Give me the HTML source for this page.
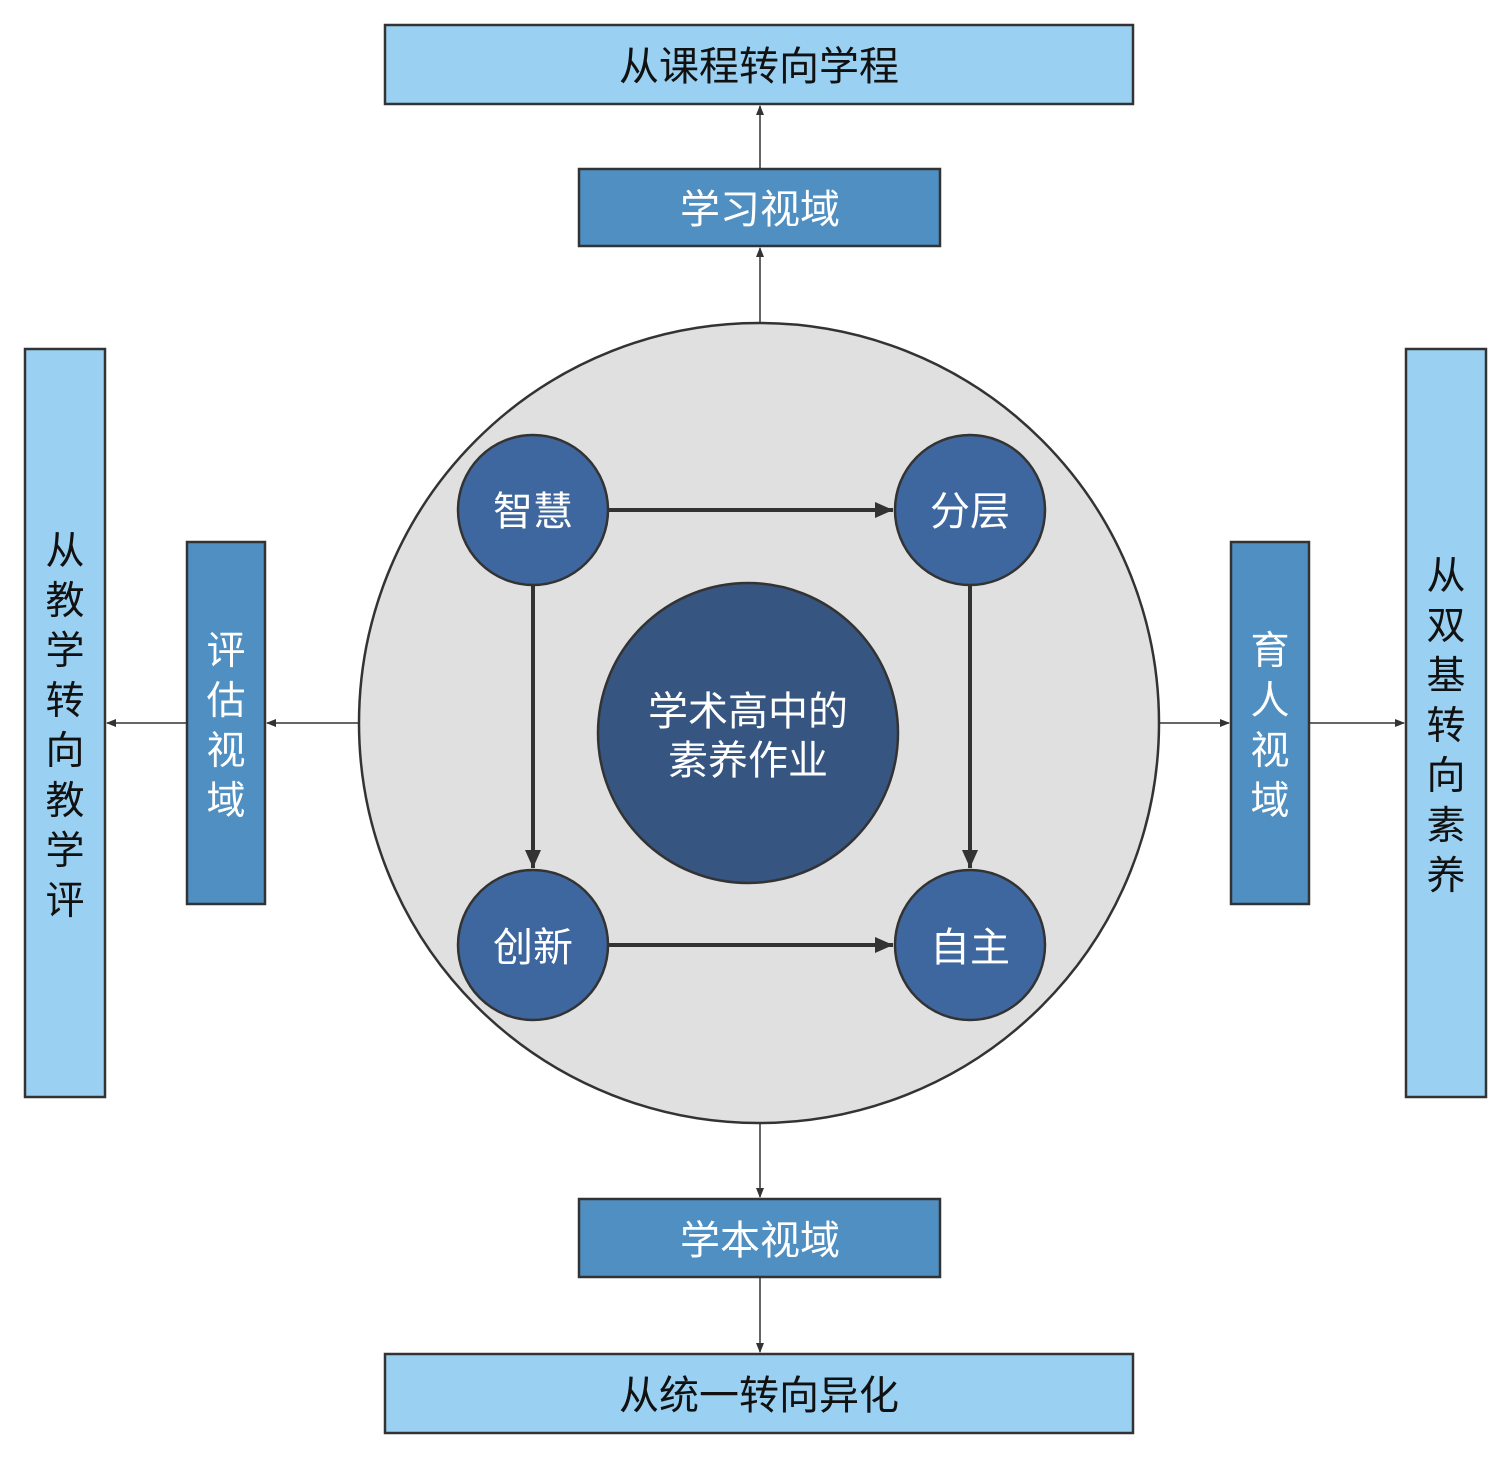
<!DOCTYPE html>
<html><head><meta charset="utf-8"><style>
html,body{margin:0;padding:0;background:#fff}
svg text{font-family:"Liberation Sans","Noto Sans CJK SC",sans-serif}
</style></head><body>
<svg width="1511" height="1458" viewBox="0 0 1511 1458" xmlns="http://www.w3.org/2000/svg">
<defs>
<marker id="a" markerWidth="10" markerHeight="10" refX="9" refY="5" orient="auto" markerUnits="userSpaceOnUse"><path d="M0,1 L10,5 L0,9 z" fill="#333"/></marker>
<marker id="b" markerWidth="20" markerHeight="20" refX="18" refY="8" orient="auto" markerUnits="userSpaceOnUse"><path d="M0,0 L18,8 L0,16 z" fill="#333"/></marker>
</defs>
<g stroke="#333" stroke-width="1.5" fill="none">
<line x1="760" y1="169" x2="760" y2="106" marker-end="url(#a)"/>
<line x1="760" y1="323" x2="760" y2="248" marker-end="url(#a)"/>
<line x1="760" y1="1122" x2="760" y2="1197" marker-end="url(#a)"/>
<line x1="760" y1="1277" x2="760" y2="1352" marker-end="url(#a)"/>
<line x1="359" y1="723" x2="267" y2="723" marker-end="url(#a)"/>
<line x1="187" y1="723" x2="107" y2="723" marker-end="url(#a)"/>
<line x1="1159" y1="723" x2="1229" y2="723" marker-end="url(#a)"/>
<line x1="1309" y1="723" x2="1404" y2="723" marker-end="url(#a)"/>
</g>
<g stroke="#333" stroke-width="2.5">
<rect x="385" y="25" width="748" height="79" fill="#9AD1F2"/>
<rect x="385" y="1354" width="748" height="79" fill="#9AD1F2"/>
<rect x="25" y="349" width="80" height="748" fill="#9AD1F2"/>
<rect x="1406" y="349" width="80" height="748" fill="#9AD1F2"/>
<rect x="579" y="169" width="361" height="77" fill="#4F8FC1"/>
<rect x="579" y="1199" width="361" height="78" fill="#4F8FC1"/>
<rect x="187" y="542" width="78" height="362" fill="#4F8FC1"/>
<rect x="1231" y="542" width="78" height="362" fill="#4F8FC1"/>
</g>
<circle cx="759" cy="723" r="400" fill="#E0E0E0" stroke="#333" stroke-width="2.5"/>
<g stroke="#333" stroke-width="4" fill="none">
<line x1="608" y1="510" x2="893" y2="510" marker-end="url(#b)"/>
<line x1="608" y1="945" x2="893" y2="945" marker-end="url(#b)"/>
<line x1="533" y1="585" x2="533" y2="868" marker-end="url(#b)"/>
<line x1="970" y1="585" x2="970" y2="868" marker-end="url(#b)"/>
</g>
<g stroke="#333" stroke-width="2.5" fill="#3D679E">
<circle cx="533" cy="510" r="75"/>
<circle cx="970" cy="510" r="75"/>
<circle cx="533" cy="945" r="75"/>
<circle cx="970" cy="945" r="75"/>
<circle cx="748" cy="733" r="150" fill="#365581"/>
</g>
<g font-size="40" text-anchor="middle" fill="#111">
<text x="759" y="80">从课程转向学程</text>
<text x="759" y="1409">从统一转向异化</text>
</g>
<g font-size="40" text-anchor="middle" fill="#fff">
<text x="760" y="223">学习视域</text>
<text x="760" y="1254">学本视域</text>
<text x="533" y="525">智慧</text>
<text x="970" y="525">分层</text>
<text x="533" y="961">创新</text>
<text x="970" y="961">自主</text>
<text x="748" y="725">学术高中的</text>
<text x="748" y="774">素养作业</text>
</g>
<g font-size="39" text-anchor="middle" fill="#111">
<text x="65" y="564">从</text><text x="65" y="614">教</text><text x="65" y="664">学</text><text x="65" y="714">转</text><text x="65" y="764">向</text><text x="65" y="814">教</text><text x="65" y="864">学</text><text x="65" y="914">评</text>
<text x="1446" y="589">从</text><text x="1446" y="639">双</text><text x="1446" y="689">基</text><text x="1446" y="739">转</text><text x="1446" y="789">向</text><text x="1446" y="839">素</text><text x="1446" y="889">养</text>
</g>
<g font-size="39" text-anchor="middle" fill="#fff">
<text x="226" y="664">评</text><text x="226" y="714">估</text><text x="226" y="764">视</text><text x="226" y="814">域</text>
<text x="1270" y="664">育</text><text x="1270" y="714">人</text><text x="1270" y="764">视</text><text x="1270" y="814">域</text>
</g>
</svg>
</body></html>
